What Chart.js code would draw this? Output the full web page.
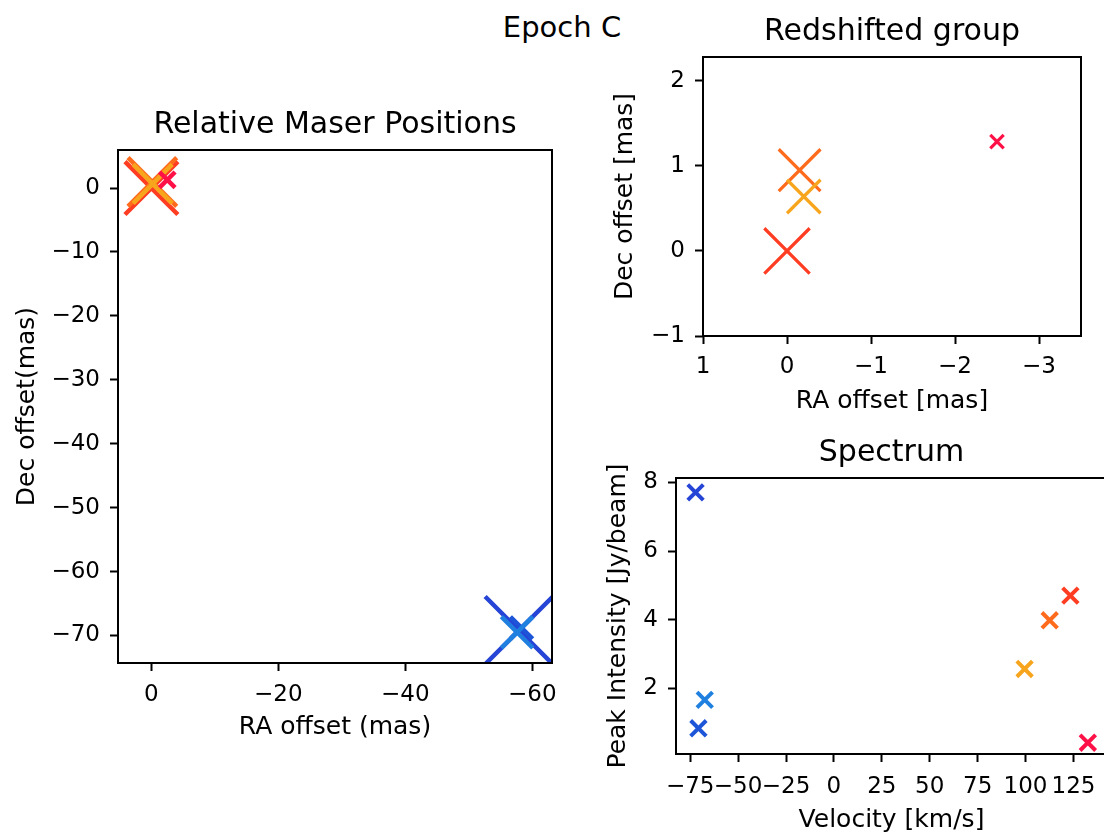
<!DOCTYPE html>
<html>
<head>
<meta charset="utf-8">
<script src="https://cdn.jsdelivr.net/npm/chart.js@4.4.0/dist/chart.umd.min.js"></script>
<style>
body { margin:0; width:1104px; height:834px; overflow:hidden; background:#fff; position:relative; }
canvas { position:absolute; }
#suptitle { position:absolute; left:0; width:1124px; top:9px; text-align:center; font-family:'DejaVu Sans'; font-size:29px; line-height:36px; color:#000; }
</style>
</head>
<body>
<div id="suptitle">Epoch C</div>
<canvas id="posChart" width="580" height="760" style="left:0;top:0"></canvas>
<canvas id="redChart" width="514" height="426" style="left:590px;top:0"></canvas>
<canvas id="specChart" width="530" height="439" style="left:590px;top:400px"></canvas>
<script>
// maser spots, epoch C
const velocity  = [123.4, 112.6, 99.5, 132.5, -72.2, -70.7, -67.4];   // km/s
const intensity = [4.70, 3.98, 2.56, 0.41, 7.71, 0.83, 1.66];         // Jy/beam
const raOffset  = [0, -0.15, -0.20, -2.50, -57.9, -58.3, -57.6];       // mas
const decOffset = [0, 0.95, 0.64, 1.285, -69.2, -68.8, -69.5];        // mas

const posXTicks  = [0, -20, -40, -60];
const posYTicks  = [0, -10, -20, -30, -40, -50, -60, -70];
const redXTicks  = [1, 0, -1, -2, -3];
const redYTicks  = [-1, 0, 1, 2];
const specXTicks = [-75, -50, -25, 0, 25, 50, 75, 100, 125];
const specYTicks = [2, 4, 6, 8];

const spotColors = ['#ff3d22', '#ff6b1c', '#f8a51e', '#ff1147', '#2645d6', '#1d55d8', '#1f80e0'];

Chart.defaults.font.family = "'DejaVu Sans', sans-serif";
Chart.defaults.color = '#000';

// matplotlib style minus sign
function fmt(v) {
  return v < 0 ? '\u2212' + Math.abs(v) : String(v);
}

// box around the plot area (all four spines)
const frame = {
  id: 'frame',
  afterDatasetsDraw(chart) {
    const a = chart.chartArea;
    const ctx = chart.ctx;
    ctx.save();
    ctx.strokeStyle = '#000';
    ctx.lineWidth = 2;
    ctx.strokeRect(a.left, a.top, a.right - a.left, a.bottom - a.top);
    ctx.restore();
  }
};

function axis(o) {
  return {
    type: 'linear',
    min: o.min, max: o.max,
    reverse: !!o.reverse,
    afterBuildTicks: s => { s.ticks = o.ticks.map(v => ({ value: v })); },
    afterFit: s => {
      if (o.width) s.width = o.width;
      if (o.height) s.height = o.height;
      // plot box is fixed, no extra room for overhanging labels
      s.paddingLeft = s.paddingRight = s.paddingTop = s.paddingBottom = 0;
    },
    grid: { display: true, drawOnChartArea: false, drawTicks: true, tickLength: 8, tickWidth: 2, tickColor: '#000' },
    border: { display: false },
    ticks: { autoSkip: false, maxRotation: 0, minRotation: 0, padding: o.pad, font: { size: 23 }, color: '#000', callback: fmt },
    title: { display: true, text: o.title, font: { size: 25 }, color: '#000', padding: o.titlePad }
  };
}

function makeChart(id, pts, radii, lineW, title, titleTop, pad, x, y) {
  return new Chart(document.getElementById(id), {
    type: 'scatter',
    data: {
      datasets: [{
        data: pts,
        pointStyle: 'crossRot',
        pointRadius: radii,
        pointBorderWidth: lineW,
        pointBorderColor: pts.map(p => p.c),
        pointBackgroundColor: pts.map(p => p.c),
        clip: 0
      }]
    },
    options: {
      responsive: false,
      animation: false,
      events: [],
      devicePixelRatio: 1,
      layout: { padding: pad, autoPadding: false },
      plugins: {
        legend: { display: false },
        tooltip: { enabled: false },
        title: { display: true, text: title, fullSize: false, color: '#000',
                 font: { size: 30, weight: 'normal' }, padding: { top: titleTop, bottom: 7 } }
      },
      scales: { x: axis(x), y: axis(y) }
    },
    plugins: [frame]
  });
}

// all spots
const allPts = raOffset.map((ra, i) => ({ x: ra, y: decOffset[i], c: spotColors[i] }));
makeChart('posChart', allPts,
  intensity.map(v => 1.414 * 12.2 * Math.sqrt(v)), 4.5,
  'Relative Maser Positions', 107, { left: 0, right: 28, top: 0, bottom: 0 },
  { min: -63.1, max: 5.26, reverse: true, ticks: posXTicks, title: 'RA offset (mas)', height: 97, pad: 10, titlePad: { top: 0, bottom: 18 } },
  { min: -74.3, max: 5.95, ticks: posYTicks, title: 'Dec offset(mas)', width: 118, pad: 10, titlePad: { top: 12, bottom: 0 } });

// redshifted spots only
const redIdx = velocity.map((v, i) => i).filter(i => velocity[i] > 0);
makeChart('redChart', redIdx.map(i => allPts[i]),
  redIdx.map(i => 1.414 * 10.47 * Math.sqrt(intensity[i])), 3.2,
  'Redshifted group', 14, { left: 0, right: 23, top: 0, bottom: 0 },
  { min: -3.5, max: 1, reverse: true, ticks: redXTicks, title: 'RA offset [mas]', height: 90, pad: 9, titlePad: { top: 0, bottom: 10 } },
  { min: -1, max: 2.28, ticks: redYTicks, title: 'Dec offset [mas]', width: 113, pad: 10, titlePad: { top: 20, bottom: 0 } });

// spectrum
const specPts = velocity.map((v, i) => ({ x: v, y: intensity[i], c: spotColors[i] }));
makeChart('specChart', specPts, 11, 4,
  'Spectrum', 35, { left: 0, right: 13, top: 0, bottom: 0 },
  { min: -82.4, max: 142.5, ticks: specXTicks, title: 'Velocity [km/s]', height: 85, pad: 11, titlePad: { top: 0, bottom: 4 } },
  { min: 0.08, max: 8.13, ticks: specYTicks, title: 'Peak Intensity [Jy/beam]', width: 86, pad: 10, titlePad: { top: 13, bottom: 0 } });
</script>
</body>
</html>
